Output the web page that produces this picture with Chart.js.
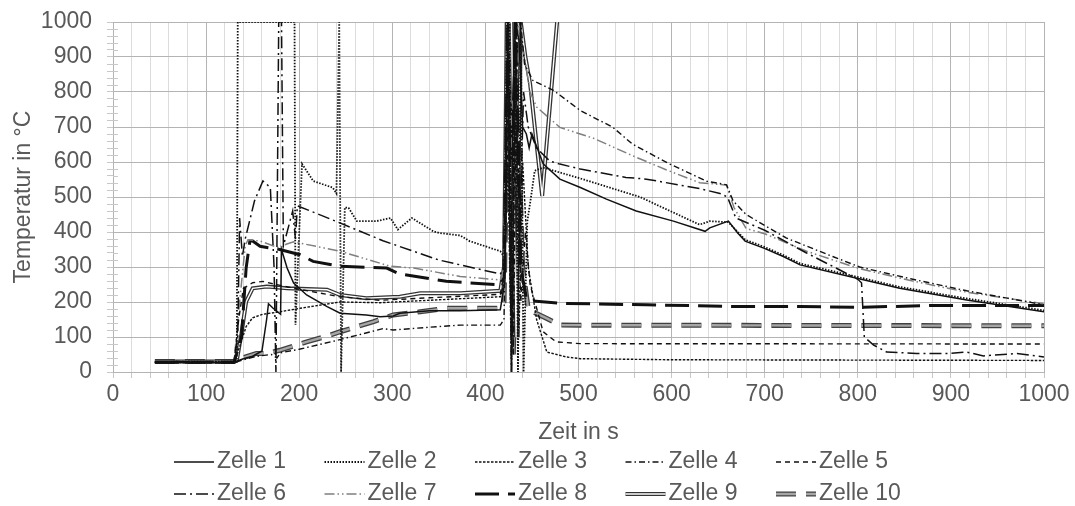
<!DOCTYPE html>
<html>
<head>
<meta charset="utf-8">
<script src="https://cdn.jsdelivr.net/npm/chart.js@4.4.1/dist/chart.umd.min.js"></script>
<style>
  html, body { margin: 0; padding: 0; background: #fff; }
  #wrap { width: 1075px; height: 506px; }
</style>
</head>
<body>
<div id="wrap"><canvas id="tempChart" width="1075" height="506"></canvas></div>
<script>
// Zeit (s) und Temperatur (°C) je Zelle
var t1 = [45,130,140,150,160,165,167,172,180,181,187,194,208,230,244,272,287,301,308,340,373,416,421,424,427,431,436,440,444,447,450,462,480,502,530,562,602,636,641,661,671,679,699,720,738,799,845,917,1000];
var z1 = [28,28,38,45,60,150,195,182,165,350,297,254,220,187,168,163,158,160,168,175,175,178,260,1000,200,1000,950,700,680,640,680,595,551,527,494,460,431,402,412,431,397,374,354,330,306,268,239,206,172];

var t2 = [45,133,134,195,196,203,215,230,236,240,243,245,249,253,262,283,298,306,321,344,351,373,383,416,420,423,426,428,432,435,438,441,445,449,453,462,502,566,630,641,661,671,679,699,720,738,799,845,917,1000];
var z2 = [29,30,1000,1000,135,595,546,532,527,510,1000,0,470,469,431,431,440,407,440,402,397,390,374,345,330,1000,1000,0,1000,0,1000,0,430,500,575,584,553,500,421,431,428,400,378,358,334,310,272,243,210,176];

var t3 = [45,130,137,143,150,161,179,201,244,287,340,416,420,424,428,432,436,440,446,455,466,487,502,600,1000];
var z3 = [27,27,80,130,155,165,172,182,200,198,205,215,250,600,20,900,100,600,300,150,57,43,38,35,33];

var t4 = [45,130,140,155,170,176,180,200,240,290,301,340,373,416,420,425,430,434,438,442,451,462,473,502,537,558,598,638,659,666,680,723,773,802,859,917,1000];
var z4 = [27,27,35,45,50,40,55,65,90,124,120,128,134,134,150,1000,50,1000,1000,880,833,819,805,747,699,651,594,545,535,489,450,383,330,300,265,232,192];

var t5 = [45,130,135,140,150,161,175,201,244,287,340,416,421,425,429,433,438,443,448,462,476,502,1000];
var z5 = [28,28,150,239,255,259,250,236,215,205,212,222,300,800,100,1000,200,400,250,115,86,81,80];

var t6 = [45,130,134,136,139,142,152,161,169,173,175,178,181,183,190,193,196,198,240,290,350,416,420,424,428,432,436,441,446,455,469,480,502,551,573,630,652,660,669,700,745,800,804,807,817,831,863,899,917,935,971,1000];
var z6 = [29,29,100,440,330,380,489,546,527,300,0,1000,1000,360,430,460,380,475,430,375,320,280,300,1000,0,1000,300,800,700,640,603,594,580,556,551,524,510,500,440,405,340,265,255,100,77,57,53,53,57,46,53,43];

var t7 = [45,130,136,142,145,158,179,186,194,244,298,323,373,416,420,426,430,436,442,448,455,480,516,558,594,630,659,667,680,700,745,802,859,917,1000];
var z7 = [28,28,200,360,378,374,354,365,372,345,302,297,273,263,300,1000,400,1000,900,800,757,699,668,618,578,541,534,470,410,395,345,295,260,228,195];

var t8 = [45,130,138,143,147,150,158,179,201,215,244,294,308,358,416,420,424,428,433,438,444,451,484,573,673,738,802,881,1000];
var z8 = [28,28,100,297,374,374,359,350,335,316,302,297,280,259,249,270,1000,600,1000,300,210,203,196,192,187,187,185,190,190];

var t9 = [45,130,133,138,143,150,165,187,230,244,272,308,330,373,416,420,423,428,433,438,443,448,461,477,480];
var z9 = [30,30,33,110,201,239,244,239,235,220,211,215,225,225,232,300,1000,1000,100,1000,900,824,503,1000,1100];

var t10 = [45,130,136,154,165,179,208,233,244,280,301,330,358,394,416,420,425,430,435,440,446,451,466,480,1000];
var z10 = [30,30,38,53,53,62,86,105,115,144,163,172,182,182,182,200,900,50,700,300,180,172,153,134,132];

var labels = ['Zelle 1','Zelle 2','Zelle 3','Zelle 4','Zelle 5','Zelle 6','Zelle 7','Zelle 8','Zelle 9','Zelle 10'];

function pts(t, z) {
    return t.map(function (x, i) { return { x: x, y: z[i] }; });
}

var textColor = '#595959';
var fontFamily = '"Liberation Sans", Arial, sans-serif';

// Linienstile: Farbe, Breite, Strichmuster, ggf. Innenlinie für Doppellinien
var styles = [
    { color: '#111', width: 1.5, dash: [] },
    { color: '#111', width: 1.8, dash: [1.5, 1.5] },
    { color: '#111', width: 1.4, dash: [2.5, 1.5] },
    { color: '#111', width: 1.4, dash: [6, 3, 1.5, 3] },
    { color: '#111', width: 1.4, dash: [5, 4] },
    { color: '#111', width: 1.5, dash: [12, 4, 2, 4] },
    { color: '#7f7f7f', width: 1.5, dash: [10, 3, 1.5, 3, 1.5, 3] },
    { color: '#111', width: 3, dash: [24, 9] },
    { color: '#333', width: 4, dash: [], inner: '#fff', innerWidth: 1.4 },
    { color: '#404040', width: 5, dash: [20, 10], inner: '#a6a6a6', innerWidth: 2.4 }
];

var series = [[t1, z1], [t2, z2], [t3, z3], [t4, z4], [t5, z5], [t6, z6], [t7, z7], [t8, z8], [t9, z9], [t10, z10]];

var datasets = series.map(function (s, i) {
    var st = styles[i];
    return {
        label: labels[i],
        data: pts(s[0], s[1]),
        borderColor: st.color,
        borderWidth: st.width,
        borderDash: st.dash,
        innerColor: st.inner,
        innerWidth: st.innerWidth,
        pointRadius: 0,
        tension: 0,
        fill: false
    };
});

// zweite, hellere Linie in der Mitte der Doppellinien
var doubleLine = {
    id: 'doubleLine',
    afterDatasetDraw: function (chart, args) {
        var ds = chart.data.datasets[args.index];
        if (!ds.innerColor) return;
        var a = chart.chartArea;
        var ctx = chart.ctx;
        ctx.save();
        ctx.beginPath();
        ctx.rect(a.left, a.top - 2, a.right - a.left, a.bottom - a.top + 4);
        ctx.clip();
        ctx.strokeStyle = ds.innerColor;
        ctx.lineWidth = ds.innerWidth;
        ctx.setLineDash(ds.borderDash || []);
        ctx.beginPath();
        args.meta.data.forEach(function (p, i) {
            if (i === 0) ctx.moveTo(p.x, p.y); else ctx.lineTo(p.x, p.y);
        });
        ctx.stroke();
        ctx.restore();
    }
};

// kurze Teilstriche der y-Achse, die in die Zeichenfläche hineinragen
var innerTicks = {
    id: 'innerTicks',
    beforeDatasetsDraw: function (chart) {
        var y = chart.scales.y;
        var ctx = chart.ctx;
        ctx.save();
        ctx.strokeStyle = '#c8c8c8';
        ctx.lineWidth = 1;
        y.ticks.forEach(function (t) {
            if (t.value % 100 === 0) return;
            var py = Math.round(y.getPixelForValue(t.value)) + 0.5;
            ctx.beginPath();
            ctx.moveTo(y.right, py);
            ctx.lineTo(y.right + 5, py);
            ctx.stroke();
        });
        ctx.restore();
    }
};

// Legende in 2 Zeilen x 5 Spalten unter dem Diagramm
var gridLegend = {
    id: 'gridLegend',
    afterDraw: function (chart) {
        var ctx = chart.ctx;
        chart.data.datasets.forEach(function (ds, i) {
            var col = i % 5, row = Math.floor(i / 5);
            var x0 = 174 + col * 150.5;
            var y = 462 + row * 32;
            ctx.save();
            ctx.lineCap = 'butt';
            ctx.strokeStyle = ds.borderColor;
            ctx.lineWidth = ds.borderWidth;
            ctx.setLineDash(ds.borderDash || []);
            ctx.beginPath();
            ctx.moveTo(x0, y);
            ctx.lineTo(x0 + 40, y);
            ctx.stroke();
            if (ds.innerColor) {
                ctx.strokeStyle = ds.innerColor;
                ctx.lineWidth = ds.innerWidth;
                ctx.beginPath();
                ctx.moveTo(x0, y);
                ctx.lineTo(x0 + 40, y);
                ctx.stroke();
            }
            ctx.setLineDash([]);
            ctx.fillStyle = textColor;
            ctx.font = '23px ' + fontFamily;
            ctx.textAlign = 'left';
            ctx.textBaseline = 'middle';
            ctx.fillText(ds.label, x0 + 43, y);
            ctx.restore();
        });
    }
};

var ctx = document.getElementById('tempChart').getContext('2d');

var tempChart = new Chart(ctx, {
    type: 'line',
    data: { datasets: datasets },
    plugins: [doubleLine, innerTicks, gridLegend],
    options: {
        responsive: false,
        animation: false,
        layout: { padding: { left: 0, right: 31, top: 22, bottom: 60 } },
        plugins: {
            legend: { display: false },
            tooltip: { enabled: false }
        },
        scales: {
            x: {
                type: 'linear',
                min: 0,
                max: 1000,
                afterFit: function (s) { s.height = 74; },
                ticks: {
                    stepSize: 20,
                    autoSkip: false,
                    maxRotation: 0,
                    padding: 3,
                    color: textColor,
                    font: { family: fontFamily, size: 23 },
                    callback: function (v) { return v % 100 === 0 ? v : ''; }
                },
                grid: {
                    color: function (c) { return c.tick && c.tick.value % 100 === 0 ? '#b4b4b4' : '#dcdcdc'; },
                    tickColor: '#c8c8c8',
                    tickLength: 6,
                    lineWidth: 1
                },
                border: { color: '#b4b4b4' },
                title: {
                    display: true,
                    text: 'Zeit in s',
                    color: textColor,
                    font: { family: fontFamily, size: 23 },
                    padding: { top: 0, bottom: 0 }
                }
            },
            y: {
                min: 0,
                max: 1000,
                afterFit: function (s) {
                    s.width = 113;
                    s.paddingTop = 0;
                    s.paddingBottom = 0;
                },
                ticks: {
                    stepSize: 20,
                    autoSkip: false,
                    padding: 15,
                    color: textColor,
                    font: { family: fontFamily, size: 23 },
                    callback: function (v) { return v % 100 === 0 ? v : ''; }
                },
                grid: {
                    color: function (c) { return c.tick && c.tick.value % 100 === 0 ? '#b4b4b4' : 'rgba(0,0,0,0)'; },
                    tickColor: '#c8c8c8',
                    tickLength: 6,
                    lineWidth: 1
                },
                border: { display: false },
                title: {
                    display: true,
                    text: 'Temperatur in °C',
                    color: textColor,
                    font: { family: fontFamily, size: 23 },
                    padding: { top: 10, bottom: 0 }
                }
            }
        }
    }
});
</script>
</body>
</html>
